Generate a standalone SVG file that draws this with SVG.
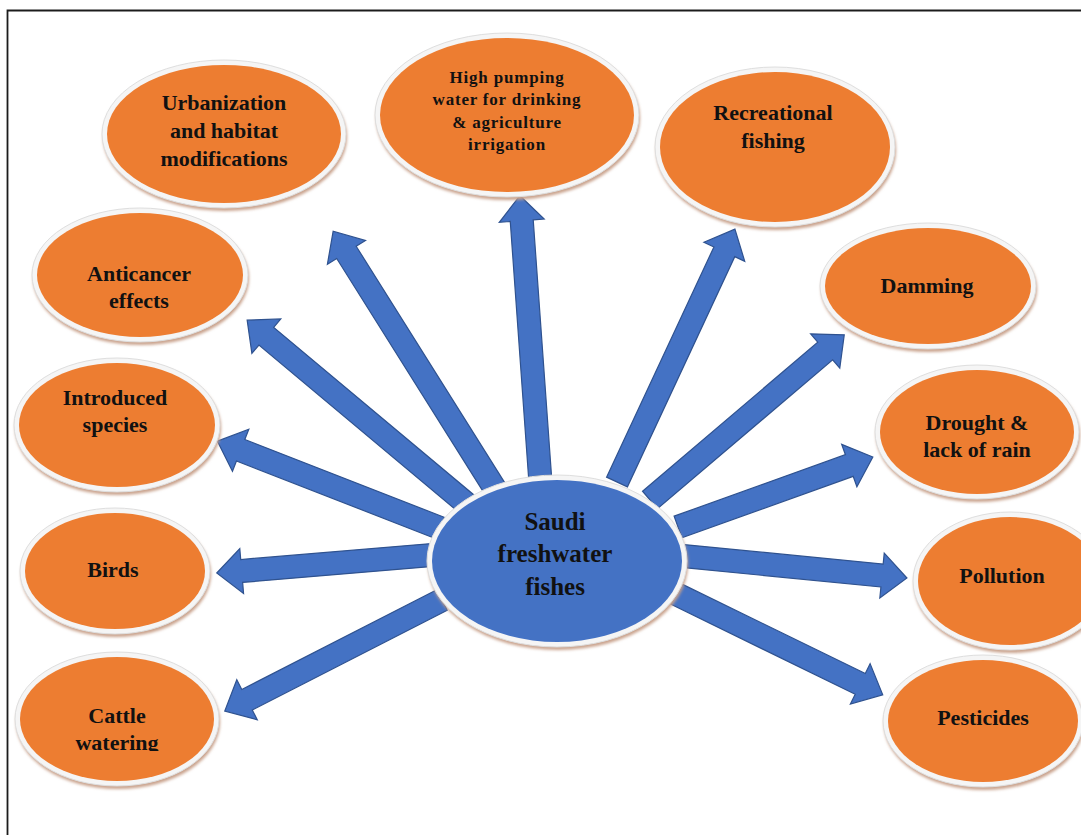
<svg xmlns="http://www.w3.org/2000/svg" width="1081" height="835" viewBox="0 0 1081 835">
<style>
.sh{fill:#c9a28c;filter:url(#blur)}
.ring{fill:#f5f5f5;stroke:#dedede;stroke-width:1}
.org{fill:#ED7D31}
.blu{fill:#4472C4}
.arr{fill:#4472C4;stroke:#2F528F;stroke-width:1.2;stroke-linejoin:miter}
text{font-family:"Liberation Serif","Times New Roman",serif;font-weight:bold;fill:#111;text-anchor:middle;font-size:22px}
.sm{font-size:17px;letter-spacing:0.8px}
.big{font-size:25px}
</style>
<defs>
<filter id="blur" x="-10%" y="-10%" width="120%" height="120%"><feGaussianBlur stdDeviation="1.5"/></filter>
<polygon id="a" points="0,0 0,0"/>
<clipPath id="clipCattle"><rect x="0" y="600" width="300" height="151"/></clipPath>
</defs>
<rect width="1081" height="835" fill="#fff"/>
<path d="M7.5 835 V10.5 H1081" fill="none" stroke="#1c1c1c" stroke-width="1.8"/>

<g id="connectors">
<polygon class="arr" transform="translate(497,492) rotate(-122.14)" points="0,-11.5 283,-11.5 283,-22.5 308,0 283,22.5 283,11.5 0,11.5"/>
<polygon class="arr" transform="translate(540,476) rotate(-94.09)" points="0,-11.5 256,-11.5 256,-22.5 281,0 256,22.5 256,11.5 0,11.5"/>
<polygon class="arr" transform="translate(617,482) rotate(-65)" points="0,-11.5 254,-11.5 254,-22.5 279,0 254,22.5 254,11.5 0,11.5"/>
<polygon class="arr" transform="translate(650,500) rotate(-40.38)" points="0,-11.5 230,-11.5 230,-22.5 255,0 230,22.5 230,11.5 0,11.5"/>
<polygon class="arr" transform="translate(678,527) rotate(-19.75)" points="0,-11.5 182,-11.5 182,-22.5 207,0 182,22.5 182,11.5 0,11.5"/>
<polygon class="arr" transform="translate(683,556) rotate(5.61)" points="0,-11.5 200,-11.5 200,-22.5 225,0 200,22.5 200,11.5 0,11.5"/>
<polygon class="arr" transform="translate(676,594) rotate(26)" points="0,-11.5 205,-11.5 205,-22.5 230,0 205,22.5 205,11.5 0,11.5"/>
<polygon class="arr" transform="translate(468,505) rotate(-140.07)" points="0,-11.5 263,-11.5 263,-22.5 288,0 263,22.5 263,11.5 0,11.5"/>
<polygon class="arr" transform="translate(440,528) rotate(-158.69)" points="0,-11.5 214,-11.5 214,-22.5 239,0 214,22.5 214,11.5 0,11.5"/>
<polygon class="arr" transform="translate(432,555) rotate(175.21)" points="0,-11.5 191,-11.5 191,-22.5 216,0 191,22.5 191,11.5 0,11.5"/>
<polygon class="arr" transform="translate(442,600) rotate(152.91)" points="0,-11.5 219,-11.5 219,-22.5 244,0 219,22.5 219,11.5 0,11.5"/>
</g>

<g id="center">
<ellipse class="sh" cx="558" cy="564" rx="130" ry="86"/>
<ellipse class="ring" cx="557" cy="561" rx="130" ry="86"/>
<ellipse class="blu" cx="557" cy="561" rx="125" ry="81"/>
<text class="big" x="555" y="530">Saudi</text>
<text class="big" x="555" y="562">freshwater</text>
<text class="big" x="555" y="595">fishes</text>
</g>

<g id="urbanization">
<ellipse class="sh" cx="225" cy="137" rx="122" ry="74"/>
<ellipse class="ring" cx="224" cy="134" rx="122" ry="74"/>
<ellipse class="org" cx="224" cy="134" rx="117" ry="69"/>
<text x="224" y="110">Urbanization</text>
<text x="224" y="138">and habitat</text>
<text x="224" y="166">modifications</text>
</g>

<g id="anticancer">
<ellipse class="sh" cx="141" cy="278" rx="108" ry="67"/>
<ellipse class="ring" cx="140" cy="275" rx="108" ry="67"/>
<ellipse class="org" cx="140" cy="275" rx="103" ry="62"/>
<text x="139" y="281">Anticancer</text>
<text x="139" y="308">effects</text>
</g>

<g id="introduced">
<ellipse class="sh" cx="118" cy="428" rx="103" ry="67"/>
<ellipse class="ring" cx="117" cy="425" rx="103" ry="67"/>
<ellipse class="org" cx="117" cy="425" rx="98" ry="62"/>
<text x="115" y="405">Introduced</text>
<text x="115" y="432">species</text>
</g>

<g id="birds">
<ellipse class="sh" cx="116" cy="574" rx="95" ry="63"/>
<ellipse class="ring" cx="115" cy="571" rx="95" ry="63"/>
<ellipse class="org" cx="115" cy="571" rx="90" ry="58"/>
<text x="113" y="577">Birds</text>
</g>

<g id="cattle">
<ellipse class="sh" cx="118" cy="722" rx="102" ry="67"/>
<ellipse class="ring" cx="117" cy="719" rx="102" ry="67"/>
<ellipse class="org" cx="117" cy="719" rx="97" ry="62"/>
<text x="117" y="723">Cattle</text>
<text x="117" y="750" clip-path="url(#clipCattle)">watering</text>
</g>

<g id="pumping">
<ellipse class="sh" cx="508" cy="118" rx="132" ry="82"/>
<ellipse class="ring" cx="507" cy="115" rx="132" ry="82"/>
<ellipse class="org" cx="507" cy="115" rx="127" ry="77"/>
<text class="sm" x="507" y="83">High pumping</text>
<text class="sm" x="507" y="105">water for drinking</text>
<text class="sm" x="507" y="128">&amp; agriculture</text>
<text class="sm" x="507" y="150">irrigation</text>
</g>

<g id="recreational">
<ellipse class="sh" cx="776" cy="150" rx="120" ry="80"/>
<ellipse class="ring" cx="775" cy="147" rx="120" ry="80"/>
<ellipse class="org" cx="775" cy="147" rx="115" ry="75"/>
<text x="773" y="120">Recreational</text>
<text x="773" y="148">fishing</text>
</g>

<g id="damming">
<ellipse class="sh" cx="929" cy="289" rx="108" ry="63"/>
<ellipse class="ring" cx="928" cy="286" rx="108" ry="63"/>
<ellipse class="org" cx="928" cy="286" rx="103" ry="58"/>
<text x="927" y="293">Damming</text>
</g>

<g id="drought">
<ellipse class="sh" cx="978" cy="435" rx="102" ry="67"/>
<ellipse class="ring" cx="977" cy="432" rx="102" ry="67"/>
<ellipse class="org" cx="977" cy="432" rx="97" ry="62"/>
<text x="977" y="430">Drought &amp;</text>
<text x="977" y="457">lack of rain</text>
</g>

<g id="pollution">
<ellipse class="sh" cx="1011" cy="584" rx="97" ry="69"/>
<ellipse class="ring" cx="1010" cy="581" rx="97" ry="69"/>
<ellipse class="org" cx="1010" cy="581" rx="92" ry="64"/>
<text x="1002" y="583">Pollution</text>
</g>

<g id="pesticides">
<ellipse class="sh" cx="984" cy="724" rx="100" ry="66"/>
<ellipse class="ring" cx="983" cy="721" rx="100" ry="66"/>
<ellipse class="org" cx="983" cy="721" rx="95" ry="61"/>
<text x="983" y="725">Pesticides</text>
</g>
</svg>
